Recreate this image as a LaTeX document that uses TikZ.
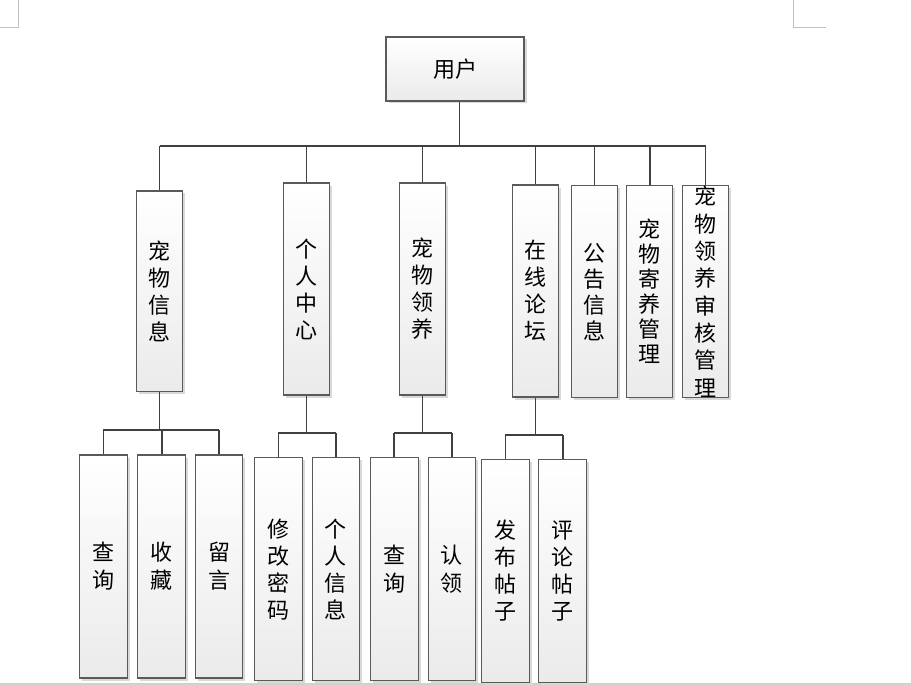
\documentclass[tikz,border=0pt]{standalone}
\usepackage{fontspec}
\newfontfamily\cjk{Noto Sans CJK SC}
\usetikzlibrary{shadows}
\definecolor{boxline}{HTML}{5A5A5A}
\definecolor{connline}{HTML}{404040}
\definecolor{markgray}{HTML}{C0C0C0}
\tikzset{
  x=1pt,y=-1pt,
  box/.style={draw=boxline,line width=1.1pt,top color=white,bottom color=black!8,
    drop shadow={shadow xshift=2.5pt,shadow yshift=-2.5pt,fill=black!15,opacity=1},
    inner sep=0pt,align=center,
    font=\cjk\fontsize{22}{27}\selectfont},
  lvl/.style={box,minimum width=46,minimum height=212},
  leaf/.style={box,minimum width=48,minimum height=223},
  conn/.style={draw=connline,line width=1.6pt},
  cornermark/.style={draw=markgray,line width=0.9pt}
}
\begin{document}
\begin{tikzpicture}
\useasboundingbox (0,0) rectangle (911,685);
% page corner marks
\draw[cornermark] (18.5,0) -- (18.5,27) -- (0,27);
\draw[cornermark] (793.5,0) -- (793.5,27) -- (826,27);
% bottom page edge
\draw[draw=black!18,line width=2pt] (0,684) -- (911,684);

\node[box,minimum width=138,minimum height=64] (u) at (455,69) {用户};

\node[lvl,minimum height=200.5] (a1) at (159.6,291.2) {宠\\物\\信\\息};
\node[lvl] (a2) at (306.5,289) {个\\人\\中\\心};
\node[lvl] (a3) at (422.3,289) {宠\\物\\领\\养};
\node[lvl] (a4) at (535.3,291) {在\\线\\论\\坛};
\node[lvl,font=\cjk\fontsize{22}{26}\selectfont] (a5) at (594.3,291.7) {公\\告\\信\\息};
\node[lvl,font=\cjk\fontsize{22}{25}\selectfont] (a6) at (649.7,291.7) {宠\\物\\寄\\养\\管\\理};
\node[lvl,font=\cjk\fontsize{22}{27.3}\selectfont] (a7) at (705.5,291.7) {宠\\物\\领\\养\\审\\核\\管\\理};

\node[leaf,font=\cjk\fontsize{22}{28}\selectfont] (b1) at (103.3,566.5) {查\\询};
\node[leaf,font=\cjk\fontsize{22}{28}\selectfont] (b2) at (161.7,566.5) {收\\藏};
\node[leaf,minimum width=47,font=\cjk\fontsize{22}{28}\selectfont] (b3) at (219.2,566.5) {留\\言};
\node[leaf] (c1) at (278.3,569.3) {修\\改\\密\\码};
\node[leaf,minimum width=47] (c2) at (335.8,569.3) {个\\人\\信\\息};
\node[leaf,font=\cjk\fontsize{22}{28}\selectfont] (d1) at (394.2,569.3) {查\\询};
\node[leaf,minimum width=47,font=\cjk\fontsize{22}{28}\selectfont] (d2) at (451.8,569.3) {认\\领};
\node[leaf] (e1) at (505.3,571) {发\\布\\帖\\子};
\node[leaf] (e2) at (562.8,571) {评\\论\\帖\\子};

% top level connectors
\coordinate (busA) at (0,146);
\draw[conn] ([xshift=4.5pt]u.south) -- ([xshift=4.5pt]u.south |- busA);
\draw[conn] (a1.north |- busA) -- (a7.north |- busA);
\foreach \n in {a1,a2,a3,a4,a5,a6,a7}
  \draw[conn] (\n.north) -- (\n.north |- busA);

% group 1
\coordinate (busB) at (0,430);
\draw[conn] (a1.south) -- (a1.south |- busB);
\draw[conn] (b1.north |- busB) -- (b3.north |- busB);
\foreach \n in {b1,b2,b3}
  \draw[conn] (\n.north) -- (\n.north |- busB);

% group 2
\coordinate (busC) at (0,432.7);
\draw[conn] (a2.south) -- (a2.south |- busC);
\draw[conn] (c1.north |- busC) -- (c2.north |- busC);
\foreach \n in {c1,c2}
  \draw[conn] (\n.north) -- (\n.north |- busC);

% group 3
\draw[conn] (a3.south) -- (a3.south |- busC);
\draw[conn] (d1.north |- busC) -- (d2.north |- busC);
\foreach \n in {d1,d2}
  \draw[conn] (\n.north) -- (\n.north |- busC);

% group 4
\coordinate (busD) at (0,435);
\draw[conn] (a4.south) -- (a4.south |- busD);
\draw[conn] (e1.north |- busD) -- (e2.north |- busD);
\foreach \n in {e1,e2}
  \draw[conn] (\n.north) -- (\n.north |- busD);
\end{tikzpicture}
\end{document}
